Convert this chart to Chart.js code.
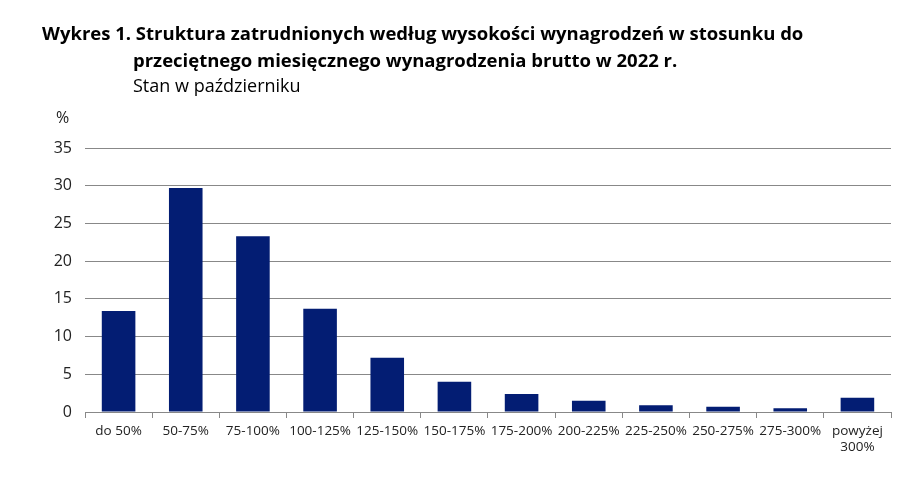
<!DOCTYPE html>
<html>
<head>
<meta charset="utf-8">
<script src="https://cdn.jsdelivr.net/npm/chart.js@4/dist/chart.umd.min.js"></script>
<style>
  html, body { margin: 0; padding: 0; background: #fff; }
  #wrap { position: relative; width: 912px; height: 478px; overflow: hidden; }
  canvas { position: absolute; left: 0; top: 0; }
  .t { position: absolute; white-space: nowrap; color: #000; font-family: "Open Sans", sans-serif; }
  #t1 { left: 42px; top: 20px; font-size: 18.5px; font-weight: 700; letter-spacing: 0px; }
  #t2 { left: 133px; top: 47px; font-size: 18.5px; font-weight: 700; letter-spacing: 0px; }
  #t3 { left: 133px; top: 73px; font-size: 18px; font-weight: 400; }
  #pct { left: 56px; top: 106px; font-size: 16px; color: #222; }
</style>
</head>
<body>
<div id="wrap">
  <canvas id="c" width="912" height="478"></canvas>
  <div class="t" id="t1">Wykres 1. Struktura zatrudnionych według wysokości wynagrodzeń w stosunku do</div>
  <div class="t" id="t2">przeciętnego miesięcznego wynagrodzenia brutto w 2022 r.</div>
  <div class="t" id="t3">Stan w październiku</div>
  <div class="t" id="pct">%</div>
</div>
<script>
const categories = ['do 50%', '50-75%', '75-100%', '100-125%', '125-150%', '150-175%', '175-200%', '200-225%', '225-250%', '250-275%', '275-300%', ['powyżej', '300%']];
const shares = [13.4, 29.7, 23.3, 13.7, 7.2, 4.0, 2.4, 1.5, 0.9, 0.7, 0.5, 1.9];
const yTicks = [0, 5, 10, 15, 20, 25, 30, 35];

new Chart(document.getElementById('c'), {
  type: 'bar',
  data: {
    labels: categories,
    datasets: [{
      data: shares,
      backgroundColor: '#031d73',
      barPercentage: 0.5,
      categoryPercentage: 1.0
    }]
  },
  options: {
    responsive: false,
    animation: false,
    layout: { padding: { top: 148, right: 21, left: 0, bottom: 0 } },
    plugins: { legend: { display: false }, tooltip: { enabled: false } },
    scales: {
      x: {
        grid: { offset: true, drawOnChartArea: false, drawTicks: true, tickLength: 6, color: '#888' },
        border: { color: '#888', width: 1 },
        ticks: { color: '#222', font: { family: 'Open Sans', size: 13.5 }, maxRotation: 0, autoSkip: false, padding: 5 },
        afterFit: s => { s.height = 66; }
      },
      y: {
        min: 0, max: 35,
        afterBuildTicks: s => { s.ticks = yTicks.map(v => ({ value: v })); },
        grid: { drawTicks: false, color: '#888' },
        border: { display: false },
        ticks: { color: '#222', font: { family: 'Open Sans', size: 16 }, padding: 13 },
        afterFit: s => { s.width = 85; }
      }
    }
  }
});
</script>
</body>
</html>
